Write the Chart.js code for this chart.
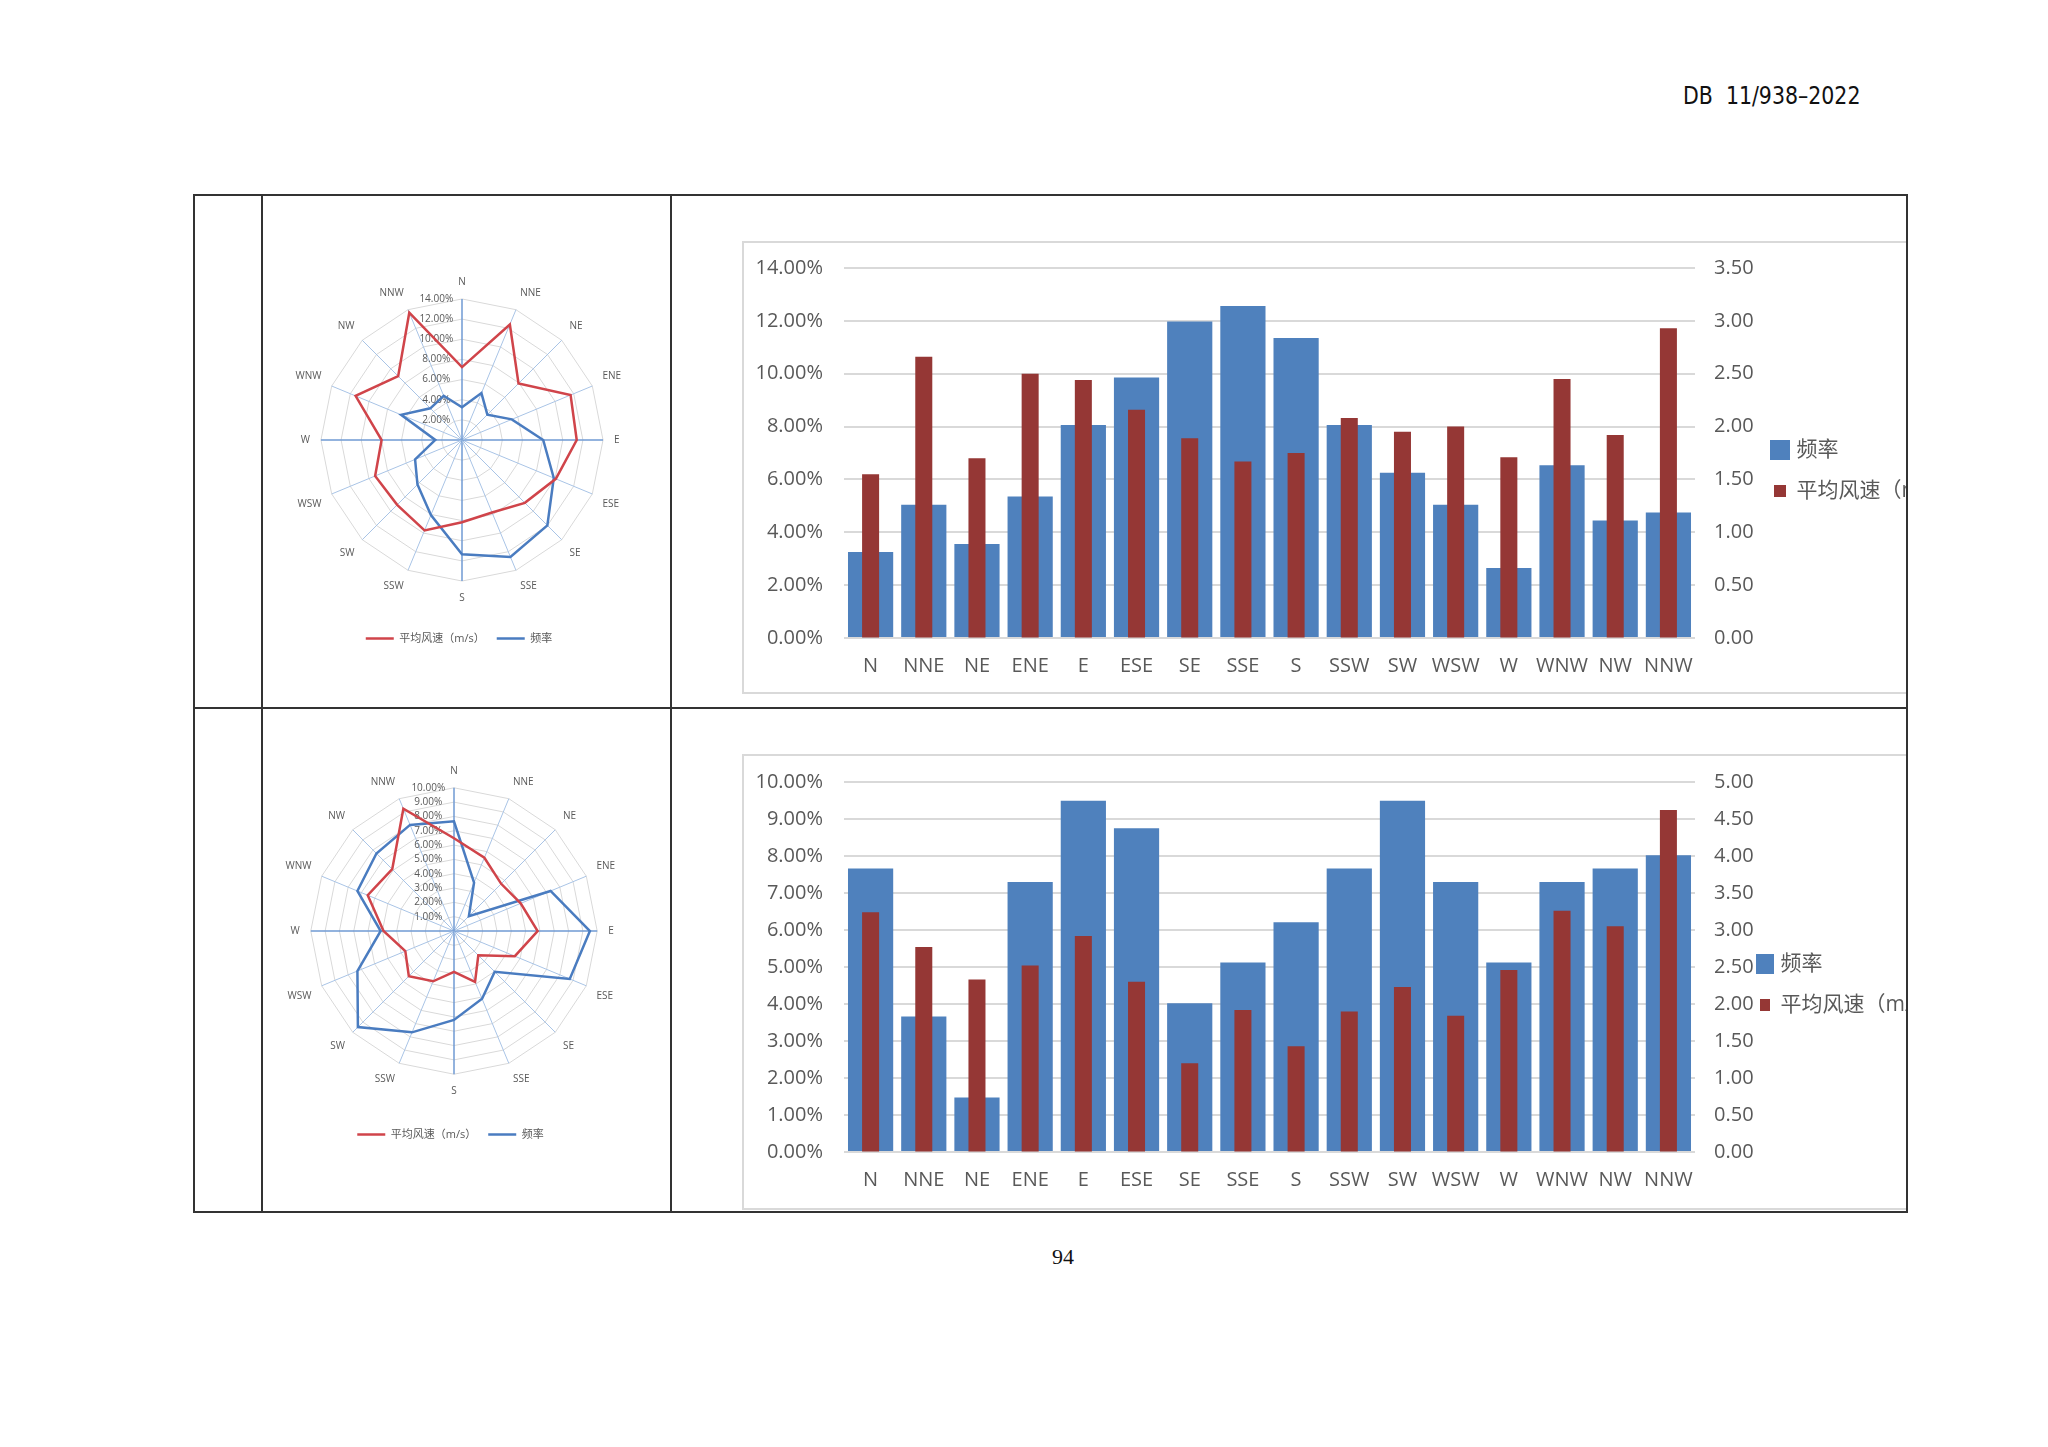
<!DOCTYPE html>
<html>
<head>
<meta charset="utf-8">
<script src="https://cdn.jsdelivr.net/npm/chart.js@4.4.1/dist/chart.umd.min.js"></script>
<style>
  html, body { margin: 0; padding: 0; background: #fff; }
  body { width: 2048px; height: 1447px; position: relative; overflow: hidden; }
  .hl { position: absolute; height: 2px; background: #333; z-index: 5; }
  .vl { position: absolute; width: 2px; background: #333; z-index: 5; }
  .clip { position: absolute; overflow: hidden; }
  .frame { position: absolute; left: 0; top: 0; width: 1500px; border: 2px solid #d9d9d9; box-sizing: border-box; }
  canvas { position: absolute; }
  #header { position: absolute; left: 1683px; top: 83px; font: 25px/25px "DejaVu Sans", sans-serif; color: #111; white-space: pre; transform: scaleX(0.82); transform-origin: 0 0; }
  #pageno { position: absolute; left: 1013px; top: 1246px; width: 100px; text-align: center; font: 22px/22px "Liberation Serif", serif; color: #111; }
</style>
</head>
<body>
<div id="header">DB  11/938–2022</div>

<!-- table lines -->
<div class="hl" style="left:193px; top:194px; width:1715px;"></div>
<div class="hl" style="left:193px; top:707px; width:1715px;"></div>
<div class="hl" style="left:193px; top:1211px; width:1715px;"></div>
<div class="vl" style="left:193px; top:194px; height:1019px;"></div>
<div class="vl" style="left:261px; top:194px; height:1019px;"></div>
<div class="vl" style="left:670px; top:194px; height:1019px;"></div>
<div class="vl" style="left:1906px; top:194px; height:1019px;"></div>

<canvas id="radar1" width="334" height="394" style="left:292px; top:260px;"></canvas>
<canvas id="radar2" width="339" height="404" style="left:281px; top:746px;"></canvas>

<div class="clip" style="left:742px; top:241px; width:1164px; height:454px;">
  <div class="frame" style="height:453px;"></div>
  <canvas id="bar1" width="1194" height="458" style="left:1px; top:-6px;"></canvas>
</div>
<div class="clip" style="left:742px; top:754px; width:1164px; height:457px;">
  <div class="frame" style="height:456px;"></div>
  <canvas id="bar2" width="1194" height="460" style="left:1px; top:-5px;"></canvas>
</div>

<div id="pageno">94</div>

<script>
const dirs = ['N', 'NNE', 'NE', 'ENE', 'E', 'ESE', 'SE', 'SSE', 'S', 'SSW', 'SW', 'WSW', 'W', 'WNW', 'NW', 'NNW'];

// upper row: frequency (%) and mean wind speed (m/s)
const freqA = [3.25, 5.04, 3.56, 5.35, 8.06, 9.86, 11.98, 12.56, 11.35, 8.06, 6.25, 5.04, 2.65, 6.54, 4.45, 4.75];
const speedA = [1.55, 2.66, 1.70, 2.50, 2.44, 2.16, 1.89, 1.67, 1.75, 2.08, 1.95, 2.00, 1.71, 2.45, 1.92, 2.93];

// lower row
const freqB = [7.66, 3.66, 1.47, 7.30, 9.49, 8.75, 4.02, 5.12, 6.21, 7.66, 9.49, 7.30, 5.12, 7.30, 7.66, 8.02];
const speedB = [3.24, 2.77, 2.33, 2.52, 2.92, 2.30, 1.20, 1.92, 1.43, 1.90, 2.23, 1.84, 2.46, 3.26, 3.05, 4.62];

// axis ranges [max, step]
const freqAxisA = [14, 2];
const speedAxisA = [3.5, 0.5];
const freqAxisB = [10, 1];
const speedAxisB = [5, 0.5];
const radarSpeedMaxA = 3;
const radarSpeedMaxB = 5;

const BAR_BLUE = '#4f81bd';
const BAR_RED = '#953735';
const LINE_RED = '#d0444a';
const LINE_BLUE = '#4a7cc0';
const TEXT = '#595959';
const CLEAR = 'rgba(0,0,0,0)';

Chart.defaults.font.family = '"Open Sans", "Noto Sans CJK SC", sans-serif';

// moves the legend sideways after layout, so it can sit close to the right axis
const legendShift = {
  id: 'legendShift',
  afterLayout(chart, args, opts) {
    const lg = chart.legend;
    if (lg && opts.dx) {
      lg.left += opts.dx;
      lg.right += opts.dx;
    }
  },
};

const barChart = (id, freq, speed, freqAxis, speedAxis, cfg) => {
  return new Chart(document.getElementById(id), {
    type: 'bar',
    data: {
      labels: dirs,
      datasets: [
        {
          label: '频率',
          data: freq,
          yAxisID: 'y',
          backgroundColor: BAR_BLUE,
          barPercentage: 0.85,
          categoryPercentage: 1,
          grouped: false,
          order: 2,
        },
        {
          label: '平均风速（m/s）',
          data: speed,
          yAxisID: 'y1',
          backgroundColor: BAR_RED,
          barPercentage: 0.32,
          categoryPercentage: 1,
          grouped: false,
          order: 1,
        },
      ],
    },
    plugins: [legendShift],
    options: {
      responsive: false,
      animation: false,
      layout: { padding: { top: 33, bottom: cfg.padBottom, left: 0, right: 0 } },
      plugins: {
        tooltip: { enabled: false },
        legendShift: { dx: cfg.legendDx },
        legend: {
          position: 'right',
          maxWidth: 180,
          labels: {
            color: TEXT,
            font: { size: 21 },
            boxWidth: cfg.boxWidth,
            boxHeight: 12,
            padding: 20,
            // blue key is drawn bigger, like in the original
            generateLabels: (chart) =>
              Chart.defaults.plugins.legend.labels.generateLabels(chart)
                .map((item) => ({
                  ...item,
                  lineWidth: item.datasetIndex === 0 ? 8 : 0,
                  strokeStyle: item.fillStyle,
                }))
                .sort((a, b) => a.datasetIndex - b.datasetIndex),
          },
        },
      },
      scales: {
        x: {
          grid: { display: false, drawTicks: false },
          border: { display: false },
          ticks: { color: TEXT, font: { size: 20 }, padding: 16, autoSkip: false, maxRotation: 0 },
          afterFit: (s) => { s.height = 35; },
        },
        y: {
          position: 'left',
          min: 0,
          max: freqAxis[0],
          ticks: {
            stepSize: freqAxis[1],
            color: TEXT,
            font: { size: 20 },
            padding: 21,
            callback: (v) => v.toFixed(2) + '%',
          },
          grid: { color: '#d9d9d9', lineWidth: 2, drawTicks: false },
          border: { display: false },
          afterFit: (s) => { s.width = 101; },
        },
        y1: {
          position: 'right',
          min: 0,
          max: speedAxis[0],
          ticks: {
            stepSize: speedAxis[1],
            color: TEXT,
            font: { size: 20 },
            padding: 19,
            callback: (v) => v.toFixed(2),
          },
          grid: { drawOnChartArea: false, drawTicks: false },
          border: { display: false },
          afterFit: (s) => { s.width = 62; },
        },
      },
    },
  });
};

const tickPad = '\u2007'.repeat(9);

const radarChart = (id, freq, speed, freqAxis, speedMax) => {
  return new Chart(document.getElementById(id), {
    type: 'radar',
    data: {
      labels: dirs,
      datasets: [
        {
          label: '平均风速（m/s）',
          data: speed,
          rAxisID: 'r2',
          borderColor: LINE_RED,
          backgroundColor: CLEAR,
          borderWidth: 2.5,
          pointRadius: 0,
          pointBorderWidth: 2.5,
          pointStyle: 'line',
          fill: false,
        },
        {
          label: '频率',
          data: freq,
          rAxisID: 'r',
          borderColor: LINE_BLUE,
          backgroundColor: CLEAR,
          borderWidth: 2.5,
          pointRadius: 0,
          pointBorderWidth: 2.5,
          pointStyle: 'line',
          fill: false,
        },
      ],
    },
    options: {
      responsive: false,
      animation: false,
      elements: { line: { tension: 0 } },
      plugins: {
        tooltip: { enabled: false },
        legend: {
          position: 'bottom',
          labels: { usePointStyle: true, pointStyleWidth: 28, color: TEXT, font: { size: 11 }, padding: 12 },
        },
      },
      scales: {
        r: {
          type: 'radialLinear',
          axis: 'r',
          min: 0,
          max: freqAxis[0],
          ticks: {
            stepSize: freqAxis[1],
            color: TEXT,
            font: { size: 10 },
            backdropPadding: 2,
            showLabelBackdrop: false,
            callback: (v) => v.toFixed(2) + '%' + tickPad,
          },
          grid: { color: '#d9d9d9', lineWidth: 1 },
          angleLines: {
            color: (c) => (c.index % 4 === 0 ? '#6f9ad3' : '#a9c4e6'),
            lineWidth: (c) => (c.index % 4 === 0 ? 1.5 : 1),
          },
          pointLabels: { color: TEXT, font: { size: 10 }, padding: 4 },
        },
        // second radial scale for the speed line, kept invisible
        r2: {
          type: 'radialLinear',
          axis: 'r',
          min: 0,
          max: speedMax,
          ticks: {
            color: CLEAR,
            font: { size: 10 },
            backdropPadding: 2,
            showLabelBackdrop: false,
          },
          grid: { display: false },
          angleLines: { display: false },
          pointLabels: { color: CLEAR, font: { size: 10 }, padding: 4 },
        },
      },
    },
  });
};

radarChart('radar1', freqA, speedA, freqAxisA, radarSpeedMaxA);
radarChart('radar2', freqB, speedB, freqAxisB, radarSpeedMaxB);

barChart('bar1', freqA, speedA, freqAxisA, speedAxisA, {
  padBottom: 20, boxWidth: 12, legendDx: -3,
});
barChart('bar2', freqB, speedB, freqAxisB, speedAxisB, {
  padBottom: 22, boxWidth: 10, legendDx: -17,
});
</script>
</body>
</html>
